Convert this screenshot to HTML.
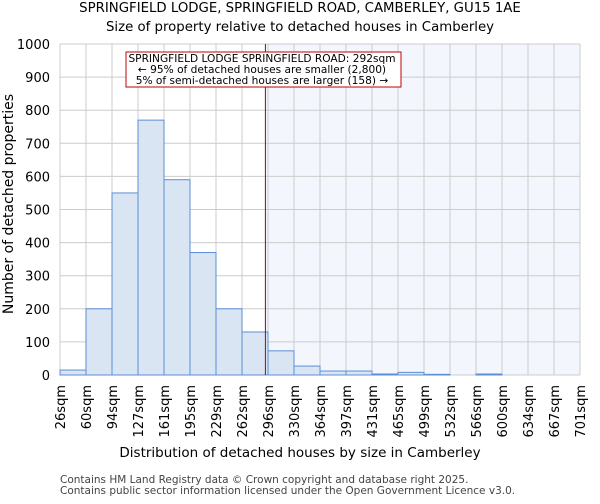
<!DOCTYPE html>
<html><head><meta charset="utf-8"><style>
body{margin:0;background:#fff;font-family:"DejaVu Sans","Liberation Sans",sans-serif}
</style></head><body>
<svg id="c" width="600" height="500" xmlns="http://www.w3.org/2000/svg" font-family="DejaVu Sans, Liberation Sans, sans-serif">
<text x="300" y="12" text-anchor="middle" font-size="13.3">SPRINGFIELD LODGE, SPRINGFIELD ROAD, CAMBERLEY, GU15 1AE</text>
<text x="300" y="31" text-anchor="middle" font-size="13.3">Size of property relative to detached houses in Camberley</text>
<g id="plot"></g>
<text x="300" y="457" text-anchor="middle" font-size="13.5">Distribution of detached houses by size in Camberley</text>
<text transform="translate(13,204) rotate(-90)" text-anchor="middle" font-size="14">Number of detached properties</text>
<text x="60" y="483" font-size="10.5" fill="#444">Contains HM Land Registry data © Crown copyright and database right 2025.</text>
<text x="60" y="494" font-size="10.5" fill="#444">Contains public sector information licensed under the Open Government Licence v3.0.</text>
</svg>
<script>
const categories=["26sqm","60sqm","94sqm","127sqm","161sqm","195sqm","229sqm","262sqm","296sqm","330sqm","364sqm","397sqm","431sqm","465sqm","499sqm","532sqm","566sqm","600sqm","634sqm","667sqm","701sqm"];
const counts=[15,200,550,770,590,370,200,130,73,27,12,12,3,8,2,0,3,0,0,0];
const yTicks=[0,100,200,300,400,500,600,700,800,900,1000];
const markerBin=7.9;
const NS="http://www.w3.org/2000/svg";
const L=60,R=580,T=44,B=375,ymax=1000;
const nb=counts.length;
const x=i=>L+(R-L)*i/nb;
const y=v=>B-(B-T)*v/ymax;
const g=document.getElementById('plot');
function mk(t,a){const e=document.createElementNS(NS,t);for(const k in a)e.setAttribute(k,a[k]);g.appendChild(e);return e;}
const mx=x(markerBin);
let e=mk('rect',{x:mx,y:T,width:R-mx,height:B-T,fill:'#f4f6fd'});

for(let i=0;i<=nb;i++){e=mk('line',{x1:x(i),x2:x(i),y1:T,y2:B,stroke:'#cccccc','stroke-width':1});
}
yTicks.forEach(v=>{e=mk('line',{x1:L,x2:R,y1:y(v),y2:y(v),stroke:'#cccccc','stroke-width':1});

e=mk('text',{x:L-10,y:y(v)+5,'text-anchor':'end','font-size':13});e.textContent=v;
});
counts.forEach((v,i)=>{e=mk('rect',{x:x(i),y:y(v),width:x(i+1)-x(i),height:B-y(v),fill:'#dae5f4',stroke:'#5b8fd6','stroke-width':1});
});
categories.forEach((c,i)=>{e=mk('text',{transform:`translate(${x(i)+5},${B+10}) rotate(-90)`,'text-anchor':'end','font-size':13});e.textContent=c;
});
e=mk('line',{x1:mx,x2:mx,y1:T,y2:B,stroke:'#aa0000','stroke-width':1});

e=mk('rect',{x:126,y:52,width:275,height:35,fill:'#fff',stroke:'#c00000','stroke-width':1});

["SPRINGFIELD LODGE SPRINGFIELD ROAD: 292sqm","← 95% of detached houses are smaller (2,800)","5% of semi-detached houses are larger (158) →"].forEach((t,i)=>{
e=mk('text',{x:262,y:62+i*11,'text-anchor':'middle','font-size':10.6});e.textContent=t;
});
</script>
</body></html>
